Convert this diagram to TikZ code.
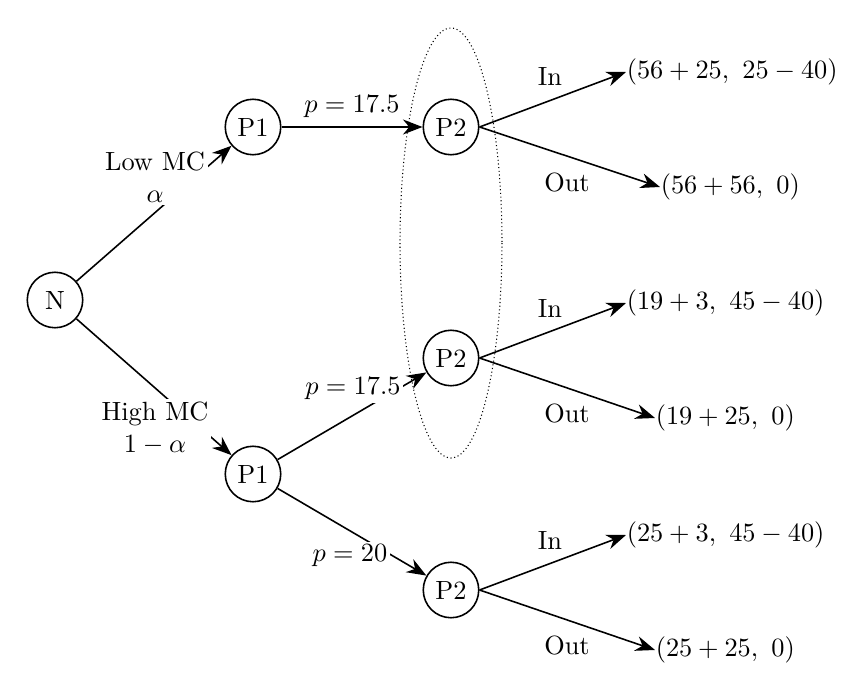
\documentclass[tikz,border=0pt]{standalone}
\usepackage{amsmath}
\usetikzlibrary{arrows.meta}
\begin{document}
\begin{tikzpicture}[x=0.01333cm,y=-0.01333cm,semithick,
	player/.style={draw,circle,minimum size=0.74cm,inner sep=0pt},
	move/.style={-{Stealth[length=2.6mm,width=2mm]}},
	lbl/.style={fill=white,align=center,inner sep=1pt}]
			\useasboundingbox (0,0) rectangle (861,698);
			\node[player] (n) at (55,300) {N};
			\node[player] (p1a) at (253,127) {P1};
			\node[player] (p1b) at (253,474) {P1};
			\node[player] (p2a) at (451,127) {P2};
			\node[player] (p2b) at (451,358) {P2};
			\node[player] (p2c) at (451,590) {P2};
			\draw[densely dotted,thin] (451,243) ellipse (51 and 215);
			% nature
			\draw[move] (n) -- (p1a);
			\draw[move] (n) -- (p1b);
			\node[lbl] at (155,177) {Low MC\\$\alpha$};
			\node[lbl] at (155,428) {High MC\\$1-\alpha$};
			% firm 1
			\draw[move] (p1a) -- node[above]{$p=17.5$} (p2a);
			\draw[move] (p1b) -- (p2b);
			\draw[move] (p1b) -- (p2c);
			\node[lbl] at (353,389) {$p=17.5$};
			\node[lbl] at (350,556) {$p=20$};
			% firm 2 and payoffs
			\foreach \f/\y/\inx/\outx/\pin/\pout in {p2a/0/626/660/{(56+25,\ 25-40)}/{(56+56,\ 0)},
					p2b/231/626/655/{(19+3,\ 45-40)}/{(19+25,\ 0)},
					p2c/463/626/655/{(25+3,\ 45-40)}/{(25+25,\ 0)}} {
				\node[anchor=west,inner sep=0pt] (in\f) at (\inx,72+\y) {$\pin$};
				\node[anchor=west,inner sep=0pt] (out\f) at (\outx,187+\y) {$\pout$};
				\draw[move] (\f.east) -- (in\f.west);
				\draw[move] (\f.east) -- (out\f.west);
				\node at (550,77+\y) {In};
				\node at (567,182+\y) {Out};
			}
		\end{tikzpicture}
\end{document}
